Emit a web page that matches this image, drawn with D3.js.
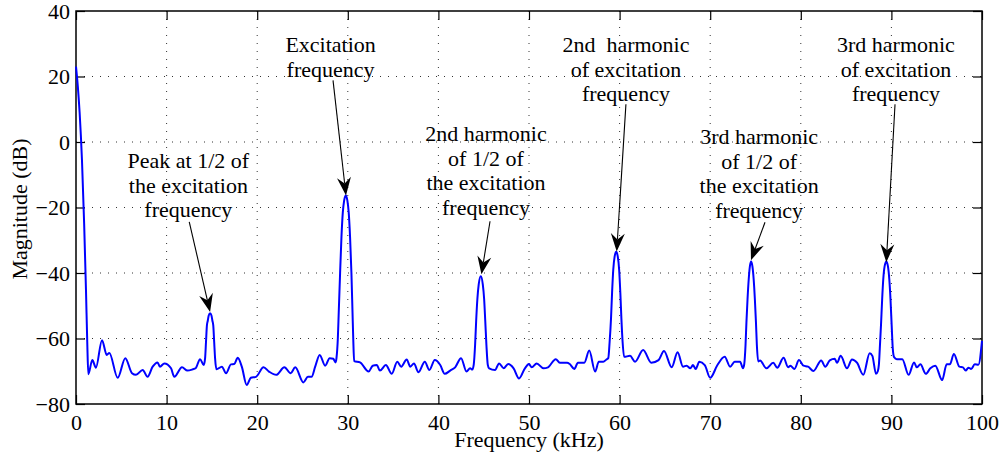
<!DOCTYPE html>
<html>
<head>
<meta charset="utf-8">
<title>Spectrum</title>
<script src="https://d3js.org/d3.v7.min.js"></script>
<style>
  body { margin: 0; background: #fff; }
  text { font-family: "Liberation Serif", "Times New Roman", serif; fill: #000; }
</style>
</head>
<body>
<div class="plot"></div>
<script>
// frequency (kHz) and magnitude (dB)
const freqKHz = [
  0, 0.2, 0.4, 0.66, 0.9, 1.1, 1.25, 1.36, 1.8, 2.2,
  2.87, 3.39, 3.68, 4.6, 5.44, 6.18, 6.62, 7.36, 7.9, 8.46,
  9.0, 9.27, 9.75, 10.49, 10.85, 11.7, 12.3, 12.9, 13.2, 13.7,
  14.1, 14.25, 14.35, 14.45, 14.55, 14.65, 14.8, 14.95, 15.05, 15.15,
  15.25, 15.35, 15.5, 16.1, 16.56, 17.1, 17.47, 17.85, 18.3, 18.84,
  19.3, 19.87, 20.7, 21.3, 22.1, 23.0, 23.7, 24.2, 25.1, 25.6,
  26.0, 26.4, 26.9, 27.5, 28.0, 28.4, 28.65, 28.75, 28.9, 29.0,
  29.15, 29.3, 29.45, 29.6, 29.78, 29.95, 30.1, 30.25, 30.4, 30.52,
  30.6, 30.7, 31.35, 32.3, 32.75, 33.2, 33.55, 34.2, 34.85, 35.46,
  35.9, 36.5, 36.9, 37.3, 37.8, 38.5, 39.0, 39.6, 40.2, 40.7,
  41.3, 41.85, 42.5, 43.1, 43.5, 43.75, 43.9, 44.05, 44.17, 44.3,
  44.45, 44.68, 44.9, 45.05, 45.17, 45.3, 45.45, 45.6, 46.25, 46.7,
  47.2, 47.7, 48.3, 48.9, 49.55, 50.0, 50.3, 50.85, 51.6, 52.1,
  52.95, 53.4, 54.2, 54.5, 55.0, 55.4, 56.1, 56.65, 57.3, 57.7,
  58.2, 58.55, 58.75, 58.9, 59.05, 59.17, 59.3, 59.45, 59.63, 59.8,
  59.95, 60.08, 60.2, 60.33, 60.5, 61.15, 61.7, 62.6, 63.5, 64.3,
  64.9, 65.75, 66.4, 67.0, 67.4, 67.8, 68.1, 68.4, 68.8, 69.4,
  70.0, 70.8, 71.6, 72.2, 72.7, 73.3, 73.62, 73.75, 73.9, 74.0,
  74.12, 74.25, 74.38, 74.52, 74.66, 74.8, 74.93, 75.05, 75.15, 75.3,
  75.5, 76.2, 76.96, 77.4, 78.1, 78.6, 78.85, 79.3, 79.8, 80.3,
  80.8, 81.4, 82.25, 82.7, 83.2, 83.75, 84.0, 84.4, 85.1, 85.65,
  86.2, 86.9, 87.6, 87.9, 88.3, 88.5, 88.62, 88.72, 88.85, 88.98,
  89.1, 89.25, 89.44, 89.62, 89.77, 89.9, 90.03, 90.15, 90.3, 90.6,
  91.2, 91.9, 92.5, 92.8, 93.2, 93.8, 94.3, 94.85, 95.6, 96.1,
  96.45, 96.9, 97.5, 97.9, 98.2, 98.5, 98.8, 99.2, 99.6, 100
];
const magDB = [
  23, 17, 9, -5.6, -25, -45, -62, -70.9, -66.6, -68.9,
  -60.5, -65, -64.4, -72, -66, -70.6, -71.1, -69.6, -71.7, -68.6,
  -67.3, -68.6, -67.6, -69.1, -71.7, -68.8, -69.8, -69.4, -69.1, -66.3,
  -68.1, -66, -61, -56, -54.5, -53, -52.3, -53, -54.5, -56,
  -61, -66, -69.4, -68.6, -70.6, -67.9, -67.8, -65.9, -68.6, -74.2,
  -72, -71.7, -68.8, -70.1, -71.1, -68.8, -70.6, -68.8, -73.4, -71.7,
  -71.7, -68.6, -65, -68.3, -66, -66.2, -67.3, -66, -60, -52,
  -40, -29, -21.5, -17.8, -16.3, -17.8, -21.5, -29, -40, -52,
  -60, -66.9, -67.3, -70.1, -68.3, -68.1, -69.8, -68.1, -70.8, -67.1,
  -68.6, -66.4, -68.6, -67.6, -70.3, -67.1, -69.6, -66.6, -68.1, -70.8,
  -69.8, -68.8, -66, -70.1, -69.1, -69.5, -68, -62, -54.5, -48,
  -43.5, -41, -43.5, -48, -54.5, -62, -68, -69.1, -69.6, -67.6,
  -69.1, -67.8, -69.1, -72.2, -69.1, -67.8, -68.8, -67.6, -69.1, -68.8,
  -66.3, -67.4, -67.4, -67.8, -69.3, -67.4, -67.4, -63.7, -70.1, -67.1,
  -67.1, -66.4, -66, -61, -54, -46, -39, -35, -33.5, -35,
  -39, -46, -54, -61, -65.6, -65.3, -67.1, -63.5, -67.4, -66.6,
  -63.8, -68.8, -64.2, -68.6, -68.3, -69.1, -68.1, -69.3, -67.1, -68.1,
  -72, -68.1, -65.6, -68.6, -67.1, -67.1, -69.1, -68, -62, -55,
  -48, -42, -38, -36.5, -38, -42, -48, -55, -62, -67,
  -66.7, -69.1, -67.4, -68.9, -65.9, -68.8, -68.3, -69.3, -66.6, -68.3,
  -68.6, -69.9, -66.7, -68.6, -66.7, -66.2, -67.4, -65.3, -69.1, -66.4,
  -67.4, -71.1, -64.5, -65.3, -70.8, -70, -68, -63, -56, -48,
  -42, -38, -36.5, -38, -42, -48, -56, -63, -65.7, -66.3,
  -66.3, -71.1, -67.3, -68.8, -67.9, -70.8, -69.1, -68.3, -72.7, -67.9,
  -67.9, -64.7, -68.6, -68.8, -69.8, -68.9, -69.3, -67.9, -68, -60.7
];

const xTicks = [0, 10, 20, 30, 40, 50, 60, 70, 80, 90, 100];
const yTicks = [-80, -60, -40, -20, 0, 20, 40];

// annotation texts, text anchor (kHz, dB of first baseline), arrow tail and tip
const annoLines = [
  ["Peak at 1/2 of", "the excitation", "frequency"],
  ["Excitation", "frequency"],
  ["2nd harmonic", "of 1/2 of", "the excitation", "frequency"],
  ["2nd\u00a0 harmonic", "of excitation", "frequency"],
  ["3rd harmonic", "of 1/2 of", "the excitation", "frequency"],
  ["3rd harmonic", "of excitation", "frequency"]
];
const annoTextAt = [[12.4, -8.0], [28.1, 27.4], [45.25, 0.2], [60.7, 27.4], [75.4, -0.7], [90.5, 27.4]];
const arrowFrom = [[12.5, -24.4], [28.37, 18.8], [45.7, -24.2], [60.7, 11.5], [76.05, -24.5], [90.4, 11.5]];
const arrowTo = [[14.8, -51.9], [29.8, -16.3], [44.75, -40.4], [59.68, -33.4], [74.5, -36.1], [89.44, -36.7]];

const width = 1000, height = 461;
const mLeft = 76, mRight = 982, mTop = 11, mBottom = 404;

const svg = d3.select(".plot").append("svg")
  .attr("width", width)
  .attr("height", height);

const x = d3.scaleLinear().domain([0, 100]).range([mLeft, mRight]);
const y = d3.scaleLinear().domain([-80, 40]).range([mBottom, mTop]);

// dotted grid
svg.append("g").selectAll("line")
  .data(xTicks.filter(d => d > 0 && d < 100))
  .join("line")
  .attr("x1", d => x(d)).attr("x2", d => x(d))
  .attr("y1", mTop).attr("y2", mBottom)
  .attr("stroke", "#333").attr("stroke-width", 1)
  .attr("stroke-dasharray", "1,7");
svg.append("g").selectAll("line")
  .data(yTicks.filter(d => d > -80 && d < 40))
  .join("line")
  .attr("x1", mLeft).attr("x2", mRight)
  .attr("y1", d => y(d)).attr("y2", d => y(d))
  .attr("stroke", "#333").attr("stroke-width", 1)
  .attr("stroke-dasharray", "1,7");

// axes with inward ticks
const fontSize = 22;
const xAxis = svg.append("g")
  .attr("transform", `translate(0,${mBottom})`)
  .call(d3.axisBottom(x).tickValues(xTicks).tickSizeInner(-9).tickSizeOuter(0).tickPadding(10));
xAxis.selectAll("text").attr("font-size", fontSize).attr("dy", "0.71em").attr("y", 10);

const yAxis = svg.append("g")
  .attr("transform", `translate(${mLeft},0)`)
  .call(d3.axisLeft(y).tickValues(yTicks).tickSizeInner(-9).tickSizeOuter(0).tickPadding(6));
yAxis.selectAll("text").attr("font-size", fontSize).attr("x", -6).attr("dy", "0.33em");

svg.append("g").attr("transform", `translate(0,${mTop})`)
  .call(d3.axisTop(x).tickValues(xTicks).tickSizeInner(-9).tickSizeOuter(0).tickFormat(""));
svg.append("g").attr("transform", `translate(${mRight},0)`)
  .call(d3.axisRight(y).tickValues(yTicks).tickSizeInner(-9).tickSizeOuter(0).tickFormat(""));

svg.selectAll(".domain").remove();
svg.selectAll(".tick line").attr("stroke", "#000").attr("stroke-width", 1.2);

svg.append("rect")
  .attr("x", mLeft).attr("y", mTop)
  .attr("width", mRight - mLeft).attr("height", mBottom - mTop)
  .attr("fill", "none").attr("stroke", "#000").attr("stroke-width", 1.5);

// spectrum line
const pts = freqKHz.map((f, i) => [f, magDB[i]]);
const line = d3.line()
  .x(d => x(d[0]))
  .y(d => y(d[1]))
  .curve(d3.curveMonotoneX);

svg.append("path")
  .datum(pts)
  .attr("d", line)
  .attr("fill", "none")
  .attr("stroke", "#0000ff")
  .attr("stroke-width", 2)
  .attr("stroke-linejoin", "round");

// axis titles
svg.append("text")
  .attr("x", (mLeft + mRight) / 2).attr("y", 447)
  .attr("text-anchor", "middle")
  .attr("font-size", fontSize)
  .text("Frequency (kHz)");

svg.append("text")
  .attr("transform", "translate(27,209) rotate(-90)")
  .attr("text-anchor", "middle")
  .attr("font-size", fontSize)
  .text("Magnitude (dB)");

// annotations
annoLines.forEach((lines, i) => {
  const t = svg.append("text")
    .attr("text-anchor", "middle")
    .attr("font-size", fontSize);
  lines.forEach((s, j) => {
    t.append("tspan")
      .attr("x", x(annoTextAt[i][0]))
      .attr("y", y(annoTextAt[i][1]) + j * 24.5)
      .text(s);
  });

  const x1 = x(arrowFrom[i][0]), y1 = y(arrowFrom[i][1]);
  const x2 = x(arrowTo[i][0]), y2 = y(arrowTo[i][1]);
  const len = Math.hypot(x2 - x1, y2 - y1);
  const ux = (x2 - x1) / len, uy = (y2 - y1) / len;
  const nx = -uy, ny = ux;
  const L = 18, W = 7, notch = 12;
  svg.append("line")
    .attr("x1", x1).attr("y1", y1)
    .attr("x2", x2 - ux * notch).attr("y2", y2 - uy * notch)
    .attr("stroke", "#000").attr("stroke-width", 1.1);
  const head = [
    [x2, y2],
    [x2 - ux * L + nx * W, y2 - uy * L + ny * W],
    [x2 - ux * notch, y2 - uy * notch],
    [x2 - ux * L - nx * W, y2 - uy * L - ny * W]
  ];
  svg.append("path")
    .attr("d", "M" + head.map(p => p.join(",")).join("L") + "Z")
    .attr("fill", "#000");
});
</script>
</body>
</html>
